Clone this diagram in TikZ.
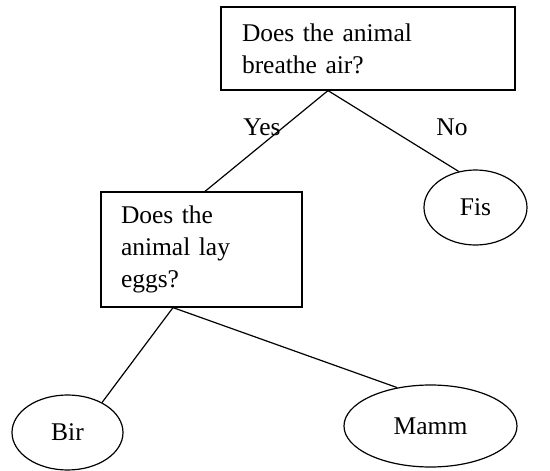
\documentclass[tikz,border=0pt]{standalone}
\usepackage{fontspec}
\setmainfont{Liberation Serif}
\usetikzlibrary{shapes.geometric}
\begin{document}
\begin{tikzpicture}[x=1pt,y=-1pt,
  every node/.style={font=\fontsize{25.5}{32}\selectfont},
  qbox/.style={draw,line width=1.2pt,rectangle,align=left,anchor=center,inner ysep=0pt},
  leaf/.style={draw,line width=1.2pt,ellipse,inner sep=0pt},
  conn/.style={line width=1.2pt}]
\useasboundingbox (0,0) rectangle (550,471);
\node[qbox,minimum width=294pt,minimum height=83pt,text width=252pt,inner xsep=21pt] (q1) at (368,48.5) {Does the animal\\breathe air?};
\node[qbox,minimum width=201pt,minimum height=115pt,text width=161pt,inner xsep=20pt] (q2) at (201.5,249.5) {Does the\\animal lay\\eggs?};
\node[leaf,minimum width=103pt,minimum height=75pt] (fis) at (475.5,207.5) {Fis};
\node[leaf,minimum width=111pt,minimum height=75pt] (bir) at (67.5,432.5) {Bir};
\node[leaf,minimum width=173pt,minimum height=82pt] (mamm) at (430.5,426) {Mamm};
\node (yes) at (262,127) {Yes};
\node (no) at (452,127) {No};
\draw[conn] ([xshift=-40pt]q1.south) -- ([xshift=3.5pt]q2.north);
\draw[conn] ([xshift=-40pt]q1.south) -- (fis.115);
\draw[conn] ([xshift=-28.5pt]q2.south) -- (bir.41);
\draw[conn] ([xshift=-28.5pt]q2.south) -- (mamm.131);
\end{tikzpicture}
\end{document}
